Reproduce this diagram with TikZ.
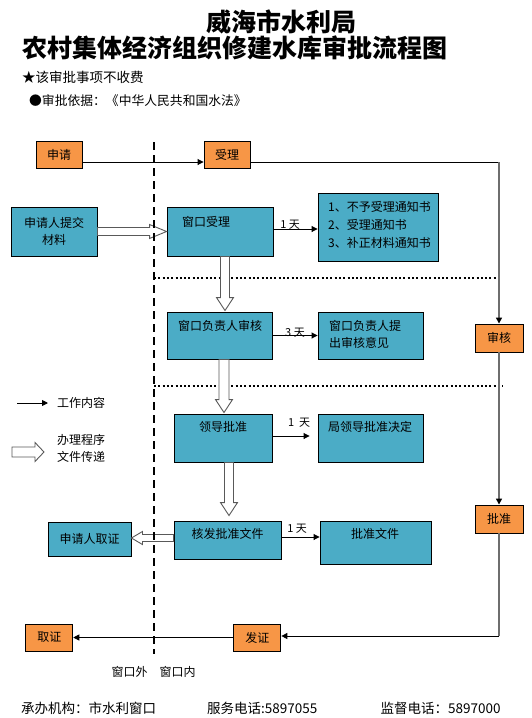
\documentclass[tikz,border=0pt]{standalone}
\usepackage{fontspec}
\setmainfont{Noto Sans CJK SC}
\usetikzlibrary{calc,arrows.meta}
\definecolor{boxorange}{HTML}{F79646}
\definecolor{boxblue}{HTML}{4BACC6}
\definecolor{linegray}{HTML}{6E6E6E}
\tikzset{
  obox/.style={draw=black, fill=boxorange, line width=0.9pt, inner sep=0pt, font=\fontsize{12}{17}\selectfont},
  bbox/.style={draw=black, fill=boxblue, line width=0.9pt, inner sep=0pt, font=\fontsize{12}{17}\selectfont},
  btext/.style={inner sep=0pt, font=\fontsize{12}{17}\selectfont},
  titlefont/.style={inner sep=0pt, font=\fontsize{25}{30}\selectfont\bfseries},
  foot/.style={inner sep=0pt, anchor=west, font=\fontsize{13.5}{16}\selectfont},
  flow/.style={draw=black, line width=0.9pt, -{Triangle[length=6pt,width=6pt]}},
  plainline/.style={draw=black, line width=0.9pt},
  grayflow/.style={draw=linegray, line width=1.4pt, -{Triangle[length=6pt,width=6pt,color=black]}},
  grayline/.style={draw=linegray, line width=1.4pt},
  daylab/.style={inner sep=0pt, font=\fontsize{11}{13}\selectfont},
  blockarr/.style={draw=black!65, fill=white, line width=0.9pt},
  sepdash/.style={draw=black, line width=1.8pt, dash pattern=on 8pt off 5pt},
  sepdot/.style={draw=black, line width=2pt, dash pattern=on 2pt off 2.3pt}
}
\newcommand{\hollowarrowpath}[5]{%
  \coordinate (ba-h) at ($(#2)!#5!(#1)$);
  \draw[blockarr] ($(#1)!#3!90:(#2)$) -- ($(ba-h)!#3!90:(#2)$) -- ($(ba-h)!#4!90:(#2)$) -- (#2)
    -- ($(ba-h)!#4!-90:(#2)$) -- ($(ba-h)!#3!-90:(#2)$) -- ($(#1)!#3!-90:(#2)$) -- cycle;}
\begin{document}
\begin{tikzpicture}[x=1pt,y=-1pt]
\useasboundingbox (0,0) rectangle (532,718);
% titles
\node[titlefont] (t1) at (281.5,21.7) {威海市水利局};
\node[titlefont] (t2) at (235.5,48.3) {农村集体经济组织修建水库审批流程图};
\node[inner sep=0pt, anchor=west, font=\fontsize{13.5}{16}\selectfont] (fee) at (22,77) {★该审批事项不收费};
\node[inner sep=0pt, anchor=west, font=\fontsize{12.8}{15}\selectfont] (basis) at (29,100.7) {●审批依据：《中华人民共和国水法》};

% separators
\draw[sepdot] (154,278) -- (498,278);
\draw[sepdot] (154,386) -- (503,386);

% boxes
\node[obox, minimum width=46, minimum height=27] (sq) at (59,154.5) {申请};
\node[obox, minimum width=46, minimum height=27] (sl) at (227,154.5) {受理};
\node[bbox, minimum width=86, minimum height=49, align=center] (tj) at (54,231.5) {申请人提交\\材料};
\node[bbox, minimum width=106, minimum height=49] (ck) at (220,231.5) {};
\node[btext] (ck-t) at (206,222) {窗口受理};
\node[bbox, minimum width=120, minimum height=68] (tz) at (378,227) {};
\node[btext, anchor=west, align=left, font=\fontsize{12}{18}\selectfont] (tz-t) at (328,225) {1、不予受理通知书\\2、受理通知书\\3、补正材料通知书};
\node[bbox, minimum width=105, minimum height=47] (fz) at (219.5,335.5) {};
\node[btext] (fz-t) at (220,326) {窗口负责人审核};
\node[bbox, minimum width=105, minimum height=47] (yj) at (370.5,335.5) {};
\node[btext, anchor=west, align=left] (yj-t) at (329,334.5) {窗口负责人提\\出审核意见};
\node[bbox, minimum width=98, minimum height=48] (ld) at (223,438) {};
\node[btext] (ld-t) at (223,427) {领导批准};
\node[bbox, minimum width=105, minimum height=48] (jd) at (370.5,438) {};
\node[btext, anchor=west] (jd-t) at (328,427) {局领导批准决定};
\node[bbox, minimum width=107, minimum height=38] (hf) at (227.5,540) {};
\node[btext] (hf-t) at (227.5,534) {核发批准文件};
\node[bbox, minimum width=111, minimum height=43] (pw) at (375.5,542.5) {};
\node[btext] (pw-t) at (375,534) {批准文件};
\node[bbox, minimum width=83, minimum height=34] (qz) at (89.5,539) {申请人取证};
\node[obox, minimum width=48, minimum height=28] (sh) at (499,338) {审核};
\node[obox, minimum width=48, minimum height=28] (pz) at (499,519) {批准};
\node[obox, minimum width=47, minimum height=27] (qu) at (49.3,637.5) {取证};
\node[obox, minimum width=47, minimum height=27] (fa) at (257.4,637.5) {发证};

% main flow (right column)
\coordinate (c1) at (499,162);
\coordinate (c2) at (499,636);
\draw[flow] ($(sq.east)+(0,7.5)$) -- ($(sl.west)+(0,7.5)$);
\draw[plainline] ($(sl.east)+(0,7.5)$) -- (c1);
\draw[grayflow] (c1) -- (sh.north);
\draw[grayflow] (sh.south) -- (pz.north);
\draw[grayline] (pz.south) -- (c2);
\draw[flow] (c2) -- (c2 -| fa.east);
\draw[flow] (fa.west) -- (qu.east);

% work content arrows
\draw[flow] ($(ck.east)+(0,-2.5)$) -- ($(ck.east -| tz.west)+(0,-2.5)$) node[daylab, pos=0.38, yshift=4pt] (d1) {1 天};
\draw[flow] (fz.east) -- (fz.east -| yj.west) node[daylab, pos=0.5, yshift=2.5pt] (d2) {3 天};
\draw[flow] ($(ld.east)+(0,-2)$) -- ($(ld.east -| jd.west)+(-8,-2)$) node[daylab, pos=0.72, yshift=13pt] (d3) {1\hspace{5pt}天};
\draw[flow] ($(hf.east)+(0,-3)$) -- ($(hf.east -| pw.west)+(0,-3)$) node[daylab, pos=0.41, yshift=8pt] (d4) {1 天};

% document transfer (hollow arrows)
\coordinate (h2s) at ($(ck.south)+(5,0)$);
\coordinate (h2e) at ($(fz.north)+(5.5,-1)$);
\coordinate (h3s) at ($(fz.south)+(4.5,0)$);
\coordinate (h3e) at ($(ld.north)+(1,-1)$);
\coordinate (h4s) at ($(ld.south)+(6,0)$);
\coordinate (h4e) at ($(hf.north)+(1.5,-5)$);
\coordinate (h5s) at ($(hf.west)+(0,-2)$);
\coordinate (h5e) at ($(qz.east)+(0,-1)$);
\hollowarrowpath{tj.east}{ck.west}{4pt}{7pt}{17pt}
\hollowarrowpath{h2s}{h2e}{4.5pt}{8.5pt}{13pt}
\hollowarrowpath{h3s}{h3e}{5pt}{8.5pt}{13pt}
\hollowarrowpath{h4s}{h4e}{4.5pt}{8.5pt}{13pt}
\hollowarrowpath{h5s}{h5e}{3.5pt}{6.5pt}{11pt}

% legend
\coordinate (lg1) at (17,403);
\coordinate (lg2) at (48,403);
\draw[flow] (lg1) -- (lg2);
\node[btext, anchor=west] (lg-t1) at (57,403) {工作内容};
\coordinate (lg3) at (12,452);
\coordinate (lg4) at (44,452);
\hollowarrowpath{lg3}{lg4}{5pt}{9.5pt}{9pt}
\node[btext, anchor=west, align=left] (lg-t2) at (57,448.5) {办理程序\\文件传递};

% window separator
\draw[sepdash] (154,142) -- (154,654);
\node[btext] (out) at (129.5,672) {窗口外};
\node[btext] (in) at (177.5,672) {窗口内};

% footer
\node[foot] (f1) at (21,708) {承办机构：市水利窗口};
\node[foot] (f2) at (207,708) {服务电话:5897055};
\node[foot] (f3) at (380.5,708) {监督电话：5897000};
\end{tikzpicture}
\end{document}
